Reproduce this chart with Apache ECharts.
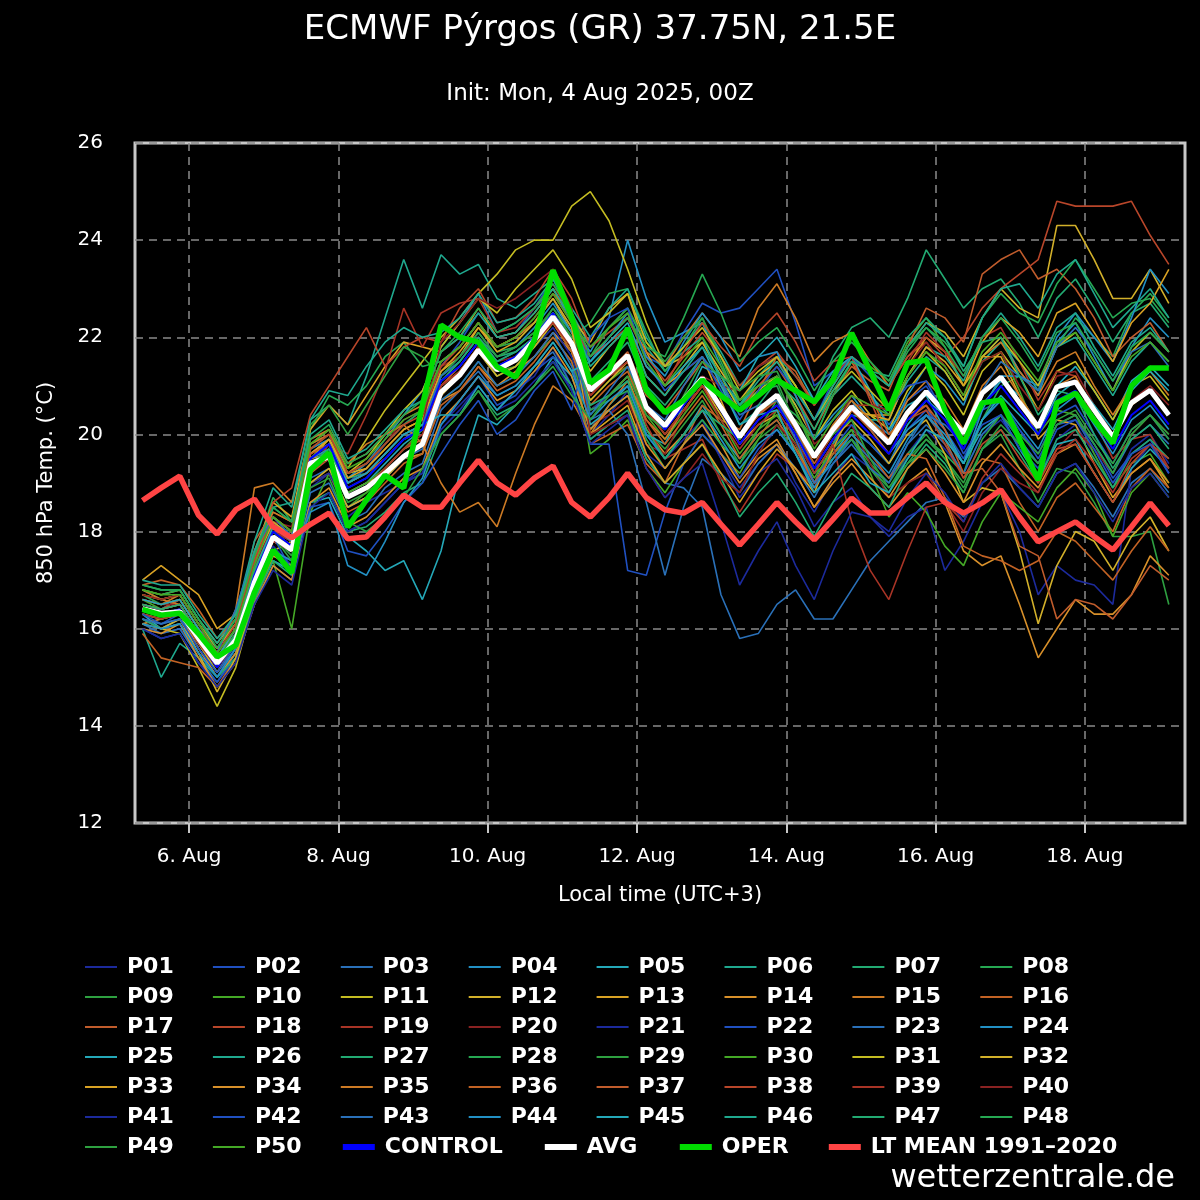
<!DOCTYPE html>
<html>
<head>
<meta charset="utf-8">
<script src="https://cdn.jsdelivr.net/npm/echarts@6/dist/echarts.min.js"></script>
<style>html,body{margin:0;padding:0;background:#000;}#c{width:1200px;height:1200px;}</style>
</head>
<body>
<div id="c"></div>
<script>
// time axis: hours relative to 6 Aug 00:00 local time (UTC+3), 6-hourly steps
const hours = [-15,-9,-3,3,9,15,21,27,33,39,45,51,57,63,69,75,81,87,93,99,105,111,117,123,129,135,141,147,153,159,165,171,177,183,189,195,201,207,213,219,225,231,237,243,249,255,261,267,273,279,285,291,297,303,309,315];
const tickHours = [0,48,96,144,192,240,288];
const tickLabels = ['6. Aug','8. Aug','10. Aug','12. Aug','14. Aug','16. Aug','18. Aug'];

const AVG = [16.41,16.32,16.35,15.8,15.29,15.77,16.96,17.89,17.62,19.41,19.54,18.71,18.9,19.2,19.55,19.8,20.87,21.22,21.74,21.33,21.53,21.94,22.42,21.88,20.91,21.26,21.63,20.56,20.18,20.71,21.16,20.55,19.95,20.5,20.81,20.2,19.54,20.1,20.57,20.2,19.82,20.45,20.88,20.45,20.03,20.85,21.18,20.65,20.15,20.98,21.08,20.5,19.95,20.65,20.91,20.4];
const OPER = [16.4,16.28,16.32,15.9,15.42,15.66,16.75,17.62,17.15,19.27,19.62,18.09,18.65,19.16,18.9,20.6,22.25,22.0,21.9,21.39,21.18,21.94,23.38,22.42,21.06,21.33,22.19,20.91,20.45,20.7,21.12,20.8,20.5,20.8,21.12,20.9,20.67,21.12,22.09,21.3,20.5,21.47,21.53,20.5,19.82,20.65,20.71,19.9,19.06,20.65,20.85,20.3,19.82,21.0,21.37,21.37];
const LTMEAN = [18.64,18.9,19.14,18.34,17.95,18.45,18.67,18.1,17.87,18.15,18.38,17.85,17.89,18.3,18.75,18.5,18.5,19.0,19.47,19.0,18.75,19.1,19.35,18.6,18.3,18.7,19.2,18.7,18.45,18.38,18.6,18.15,17.72,18.15,18.6,18.2,17.83,18.25,18.69,18.38,18.38,18.7,19.0,18.6,18.38,18.59,18.86,18.3,17.79,18.0,18.2,17.9,17.62,18.1,18.59,18.12];
const CONTROL = [16.4,16.3,16.4,15.8,15.2,15.8,17.1,18.0, 17.7,19.5,19.8,18.9,19.1,19.5,19.9,20.1, 21.1,21.4,21.9,21.4,21.6,22.0,22.5,21.9, 20.9,21.3,21.6,20.6,20.1,20.6,21.1,20.5, 19.8,20.3,20.6,20.0,19.3,19.9,20.4,20.0, 19.6,20.3,20.7,20.3,19.7,20.6,21.0,20.5, 20.0,20.7,20.9,20.3,19.7,20.4,20.7,20.2];

const P01 = [16.0,15.9,16.0,15.5,15.0,15.6,16.8,17.6, 17.3,18.9,19.2,18.3,18.6,18.8,19.0,19.3, 20.2,20.6,21.0,20.5,20.9,21.2,21.8,21.0, 20.0,20.4,20.9,19.6,19.3,19.8,20.2,19.5, 18.9,19.4,19.8,19.0,18.4,19.1,19.6,19.3, 18.8,19.6,20.1,19.7,19.2,20.0,20.3,19.8, 19.1,19.9,20.2,19.6,18.9,19.7,20.0,19.4];
const P02 = [16.2,16.1,16.3,15.7,15.1,15.7,17.1,18.0, 17.8,19.6,19.9,19.0,19.3,19.8,20.2,20.5, 21.4,21.9,22.5,22.0,22.1,22.6,23.2,22.4, 21.5,22.0,22.4,21.6,21.4,22.1,22.7,22.5, 22.6,23.0,23.4,22.3,21.0,21.3,21.6,20.8, 20.2,20.7,21.0,20.4,19.7,20.5,20.7,20.1, 19.5,20.2,20.3,19.8,19.1,19.6,19.9,19.2];
const P03 = [16.1,15.9,16.0,15.4,14.9,15.5,16.6,17.4, 17.2,18.8,19.0,18.2,18.4,18.9,19.2,19.4, 20.5,20.9,21.3,20.8,21.0,21.4,21.7,21.0, 19.9,20.2,20.4,19.5,19.0,18.9,18.5,16.7, 15.8,15.9,16.5,16.8,16.2,16.2,16.8,17.4, 17.8,18.2,18.6,18.7,18.3,19.0,19.3,18.9, 18.5,19.2,19.4,18.9,18.3,19.0,19.3,18.8];
const P04 = [16.5,16.4,16.6,16.0,15.6,16.1,17.3,18.2, 17.9,19.7,19.9,19.1,19.4,19.9,20.4,20.9, 21.8,22.3,22.9,22.1,22.3,22.6,23.0,22.3, 21.7,22.4,24.0,22.8,21.9,22.1,22.3,21.4, 20.6,21.0,21.2,20.6,19.9,20.4,20.8,20.3, 20.0,20.8,21.4,21.1,20.6,21.6,22.0,21.3, 20.8,21.9,22.3,21.6,20.9,21.8,22.4,22.0];
const P05 = [16.3,16.0,16.2,15.6,15.0,15.5,16.6,17.4, 17.2,18.6,18.7,17.9,17.6,17.2,17.4,16.6, 17.6,19.2,20.4,20.2,20.6,21.0,21.6,21.2, 20.1,20.6,21.0,20.0,19.5,20.0,20.6,20.0, 19.5,20.0,20.3,19.7,19.0,19.6,20.1,19.8, 19.4,20.2,20.7,20.4,19.8,20.6,21.1,20.8, 20.2,21.0,21.4,20.9,20.3,21.1,21.4,21.0];
const P06 = [16.0,15.0,15.7,15.4,15.0,15.6,17.0,18.5, 18.6,20.3,20.6,20.2,21.2,22.4,23.6,22.6, 23.7,23.3,23.5,22.8,22.6,22.9,23.2,22.5, 21.8,22.2,22.6,21.8,21.3,21.8,22.3,21.7, 21.0,21.4,21.6,21.0,20.3,20.8,21.2,20.8, 20.4,21.1,21.6,21.3,20.7,21.5,21.9,21.5, 20.9,21.8,22.0,21.4,20.8,21.5,21.9,21.5];
const P07 = [16.8,16.6,16.7,16.1,15.6,16.2,17.4,18.3, 18.0,19.8,20.0,19.1,19.2,19.6,20.0,20.2, 21.2,21.5,22.0,21.6,21.7,22.0,22.6,22.1, 21.1,21.5,21.9,21.0,20.6,21.1,21.6,21.1, 20.6,21.2,21.6,21.2,20.7,21.6,22.2,22.4, 22.0,22.8,23.8,23.2,22.6,23.0,23.2,22.7, 22.0,22.8,23.2,22.6,21.9,22.5,22.7,22.2];
const P08 = [16.7,16.5,16.6,16.0,15.5,16.0,17.5,18.7, 18.2,20.1,20.8,20.6,21.0,21.6,21.9,21.4, 21.5,21.8,22.3,21.7,21.8,22.1,22.5,22.0, 22.3,22.9,23.0,22.1,21.3,21.8,22.4,21.5, 20.6,20.9,21.0,20.1,19.2,19.5,19.9,19.3, 18.8,19.4,19.9,19.6,19.2,20.3,21.0,21.2, 20.9,21.8,22.4,22.0,21.6,22.5,22.9,22.4];
const P09 = [16.5,16.4,16.5,15.9,15.4,15.9,17.1,17.9, 17.5,19.3,19.5,18.6,18.8,19.1,19.5,19.6, 20.7,21.0,21.5,21.0,21.2,21.6,22.0,21.5, 20.4,20.8,21.1,20.1,19.7,20.2,20.7,20.0, 19.4,19.9,20.2,19.6,18.9,19.5,19.9,19.4, 19.0,19.6,20.0,19.5,18.9,19.7,20.0,19.3, 18.6,19.3,19.2,18.6,17.9,17.9,18.0,16.5];
const P10 = [16.6,16.4,16.5,15.9,15.4,15.8,17.0,17.4, 16.0,18.4,19.2,18.5,18.8,19.3,19.7,20.1, 21.0,21.3,21.8,21.3,21.4,21.9,22.4,21.9, 19.6,19.9,20.3,19.3,18.8,19.4,20.0,19.6, 19.2,19.9,20.5,20.3,19.9,20.8,21.5,21.4, 21.1,21.9,22.4,21.8,21.0,21.5,21.7,20.9, 20.0,20.5,20.4,19.6,18.9,19.4,19.6,19.0];
const P11 = [16.2,16.0,15.9,15.2,14.4,15.2,16.6,17.6, 17.8,19.5,19.9,19.3,19.9,20.5,21.0,21.5, 22.0,22.4,22.9,23.3,23.8,24.0,24.0,24.7, 25.0,24.4,23.4,22.3,21.4,21.6,21.9,21.2, 20.5,20.9,21.2,20.6,19.9,20.5,20.9,20.4, 20.1,20.9,21.4,21.0,20.4,21.3,21.7,21.2, 20.5,21.3,21.5,20.9,20.3,21.0,21.2,20.7];
const P12 = [16.8,16.7,16.8,16.2,15.7,16.2,17.4,18.1, 17.9,19.8,20.1,19.2,19.3,19.7,20.1,20.3, 21.3,21.6,22.2,21.8,22.0,22.3,22.8,22.1, 21.3,21.8,22.2,21.2,20.8,21.4,21.9,21.3, 20.7,21.2,21.5,21.0,20.3,21.0,21.6,21.3, 21.0,21.8,22.3,22.1,21.6,22.4,23.0,22.6, 22.4,24.3,24.3,23.6,22.8,22.8,23.4,22.7];
const P13 = [17.0,17.3,17.0,16.7,16.0,16.3,17.6,18.6, 18.3,20.1,20.6,20.2,20.8,21.4,21.9,21.8, 21.7,22.0,22.6,22.0,22.1,22.5,23.0,22.4, 21.9,22.6,22.9,21.7,21.0,21.3,21.6,20.7, 19.8,20.2,20.4,19.8,19.0,19.8,20.5,20.4, 20.4,21.4,22.0,21.7,21.0,21.6,21.6,20.8, 19.9,20.3,20.2,19.4,18.7,19.2,19.5,18.9];
const P14 = [16.1,16.2,16.3,15.6,15.0,15.5,16.9,18.0, 17.7,19.5,19.6,18.8,19.0,19.2,19.5,19.6, 20.7,20.9,21.4,21.0,21.3,21.6,22.1,21.7, 20.5,20.8,21.2,20.1,19.6,20.0,20.5,19.8, 19.1,19.6,19.9,19.2,18.5,19.0,19.4,18.9, 18.5,19.0,19.3,18.6,17.6,17.3,17.5,16.5, 15.4,16.0,16.6,16.3,16.3,16.7,17.5,17.1];
const P15 = [16.6,16.5,16.7,16.1,15.5,16.4,18.9,19.0, 18.6,19.9,20.1,19.4,19.6,20.0,20.4,20.6, 21.5,21.8,22.3,21.8,22.0,22.3,22.9,22.5, 21.6,22.0,22.4,21.7,21.4,22.0,22.5,22.0, 21.6,22.6,23.1,22.4,21.5,21.9,22.1,21.5, 21.0,21.6,21.9,21.4,20.8,21.6,21.9,21.3, 20.8,21.5,21.7,21.0,20.4,21.0,21.3,20.8];
const P16 = [15.9,15.4,15.3,15.2,14.8,15.4,16.5,17.5, 17.3,19.0,19.2,18.4,18.6,19.0,19.4,19.6, 20.6,20.9,21.4,20.9,21.1,21.5,22.0,21.5, 19.8,20.0,20.2,19.4,19.0,19.8,20.6,20.3, 20.1,20.9,21.6,21.3,20.6,21.2,21.5,20.8, 20.0,20.4,20.6,19.9,19.1,19.5,19.4,18.6, 18.0,18.7,19.0,18.5,18.0,18.9,19.3,18.9];
const P17 = [16.7,16.6,16.7,16.1,15.6,16.1,17.8,18.4, 18.2,19.6,19.8,19.0,19.2,19.5,19.9,20.1, 21.0,21.4,21.9,21.4,21.6,21.9,22.4,21.9, 20.9,21.3,21.7,20.8,20.5,21.0,21.5,21.0, 20.5,21.0,21.4,20.8,20.1,20.8,21.4,21.1, 20.9,21.8,22.6,22.4,21.9,23.3,23.6,23.8, 23.2,23.4,23.0,22.4,21.6,22.0,22.3,21.7];
const P18 = [16.5,16.4,16.6,16.0,15.4,16.0,17.4,18.6, 18.9,20.4,21.0,21.6,22.2,21.4,21.8,22.0, 21.9,22.6,23.0,22.3,22.4,22.8,23.4,22.8, 21.8,22.1,22.4,21.6,21.1,21.6,22.1,21.6, 21.0,21.4,21.7,21.2,20.6,21.2,21.6,21.3, 21.0,21.6,22.0,21.6,22.0,22.6,23.0,23.3, 23.6,24.8,24.7,24.7,24.7,24.8,24.1,23.5];
const P19 = [16.4,16.3,16.4,15.8,15.2,15.8,17.2,18.0, 17.8,19.3,19.8,19.6,20.4,21.3,22.6,21.8, 22.5,22.7,22.8,22.1,22.2,22.6,23.1,22.4, 21.0,21.2,21.4,20.2,19.5,19.7,19.9,19.0, 18.4,19.0,19.6,19.3,18.9,19.8,20.6,20.6, 20.6,21.5,22.1,21.7,21.2,22.0,22.2,21.5, 20.7,21.3,21.2,20.3,19.5,19.9,20.0,19.3];
const P20 = [16.6,16.5,16.5,15.9,15.3,15.9,17.2,18.2, 18.1,19.8,20.0,19.2,19.4,19.8,20.3,20.5, 21.4,21.6,22.0,21.5,21.6,21.9,22.4,21.8, 20.2,20.4,20.7,19.8,19.6,20.4,21.2,21.0, 20.9,21.4,21.6,20.8,19.8,20.1,20.2,19.4, 18.7,19.0,19.2,18.6,18.0,18.8,19.3,19.0, 18.8,19.7,20.1,19.7,19.2,20.0,20.4,20.0];
const P21 = [16.2,16.0,16.1,15.5,15.0,15.6,16.9,17.7, 17.3,19.0,19.2,18.5,18.7,19.1,19.5,19.8, 20.8,21.2,21.7,21.2,21.4,21.8,22.2,21.6, 20.5,20.8,21.1,20.0,19.5,19.9,20.3,19.5, 18.7,19.2,19.5,18.9,18.1,18.6,18.9,18.3, 17.9,18.3,18.5,17.2,17.8,18.6,18.8,18.0, 16.7,17.3,17.0,16.9,16.5,19.3,19.8,19.2];
const P22 = [16.0,15.8,15.9,15.3,14.9,15.4,16.5,17.3, 17.0,18.6,18.8,18.0,18.2,18.6,19.0,19.2, 20.2,20.7,21.2,20.6,20.8,21.3,21.6,20.9, 19.8,19.8,17.2,17.1,18.4,19.4,20.0,19.6, 19.1,19.7,20.1,19.6,19.0,19.7,20.2,19.8, 19.4,20.1,20.5,20.1,19.5,20.3,20.7,20.1, 19.6,20.4,20.6,20.0,19.4,20.1,20.4,19.9];
const P23 = [16.3,16.2,16.3,15.7,15.1,15.6,16.8,17.6, 17.4,19.1,19.3,18.5,18.7,19.1,19.5,19.7, 20.7,21.0,21.5,21.0,21.2,21.6,22.1,21.4, 20.3,20.5,20.0,18.6,17.1,18.5,19.5,19.2, 18.8,19.4,19.8,19.3,18.7,19.4,19.9,19.5, 19.1,19.8,20.2,19.8,19.2,20.0,20.4,19.9, 19.4,20.2,20.4,19.8,19.2,19.9,20.2,19.8];
const P24 = [16.4,16.3,16.4,15.8,15.3,15.9,17.1,18.0, 17.7,19.5,19.7,18.9,19.1,19.5,19.9,20.2, 21.2,21.6,22.1,21.6,21.8,22.2,22.7,22.1, 21.5,22.0,22.5,21.6,21.2,21.9,22.5,22.0, 21.3,21.6,21.7,20.8,19.9,20.3,20.7,20.1, 19.6,20.1,20.4,19.9,19.4,20.5,21.2,21.2, 21.0,22.0,22.5,22.0,21.5,22.4,23.4,22.9];
const P25 = [16.5,16.4,16.5,15.9,15.3,15.8,17.0,17.8, 17.6,19.3,19.5,18.8,19.0,19.4,19.8,20.1, 21.1,21.4,21.9,21.4,21.6,22.0,22.5,21.9, 20.2,20.5,20.8,20.0,19.8,20.6,21.4,21.2, 20.9,21.6,22.0,21.4,20.7,21.3,21.6,20.9, 20.1,20.6,20.8,20.1,19.4,20.1,20.4,19.7, 19.1,19.8,19.9,19.2,18.6,19.3,19.7,19.3];
const P26 = [16.9,16.8,16.8,16.2,15.7,16.3,17.8,18.9, 18.5,20.3,20.9,20.8,21.4,21.9,22.2,22.0, 22.1,22.4,22.9,22.3,22.4,22.7,23.2,22.6, 22.0,22.6,23.0,22.0,21.4,21.7,22.0,21.1, 20.2,20.5,20.7,20.0,19.2,19.8,20.4,20.3, 20.3,21.2,21.8,21.6,21.1,22.0,22.5,22.0, 21.4,22.2,22.5,21.8,21.2,21.9,22.2,21.7];
const P27 = [16.2,16.0,16.1,15.5,15.0,15.4,16.6,17.4, 17.1,18.6,18.8,18.0,18.1,18.4,18.8,19.0, 20.0,20.4,20.9,20.4,20.6,21.0,21.5,21.0, 19.9,20.2,20.5,19.5,19.0,19.4,19.8,19.1, 18.3,18.8,19.2,18.6,17.9,18.6,19.2,18.9, 18.5,19.3,19.8,19.4,18.8,19.7,20.1,19.6, 19.0,19.9,20.1,19.5,18.9,19.6,19.9,19.5];
const P28 = [16.8,16.7,16.8,16.2,15.6,16.1,17.3,18.2, 17.9,19.7,20.0,19.2,19.4,19.8,20.2,20.5, 21.5,21.8,22.3,21.8,21.9,22.3,22.8,22.2, 20.5,20.7,20.9,19.9,19.3,19.8,20.3,19.8, 19.4,20.1,20.7,20.4,19.9,20.8,21.5,21.3, 21.0,21.7,22.2,21.9,21.4,22.4,22.9,22.5, 22.3,23.1,23.6,23.0,22.4,22.7,22.8,22.3];
const P29 = [16.6,16.5,16.6,16.0,15.4,15.9,17.3,18.1, 18.0,20.2,20.6,20.0,20.6,21.2,21.8,21.6, 21.2,21.6,22.1,21.6,21.8,22.1,22.6,22.0, 21.6,22.2,22.6,21.9,21.5,22.0,22.4,21.6, 20.7,21.0,21.1,20.2,19.3,19.6,19.9,19.3, 18.9,19.5,19.9,19.5,19.0,19.9,20.4,20.0, 19.6,20.3,20.5,19.9,19.4,20.1,20.4,19.9];
const P30 = [16.4,16.3,16.4,15.8,15.2,15.8,17.1,18.0, 17.7,19.4,19.6,18.8,19.0,19.3,19.7,19.9, 20.9,21.2,21.7,21.2,21.4,21.8,22.3,21.7, 20.7,21.1,21.4,20.4,19.9,20.4,20.9,20.3, 19.6,20.1,20.4,19.8,19.1,19.7,20.1,19.2, 18.3,18.8,18.4,17.7,17.3,18.2,18.8,18.5, 18.2,18.9,19.3,18.8,17.9,18.8,19.2,18.7];
const P31 = [16.3,16.2,16.3,15.7,15.1,15.7,17.0,17.9, 17.7,19.6,19.9,19.2,19.5,20.0,20.5,20.9, 21.8,22.3,22.8,22.5,23.0,23.4,23.8,23.2, 22.2,22.5,22.9,21.9,21.4,21.8,22.2,21.6, 20.9,21.3,21.6,21.0,20.3,20.9,21.3,20.9, 20.5,21.2,21.7,21.3,20.7,21.6,22.0,21.5, 21.0,21.8,22.1,21.5,20.9,21.7,22.1,21.7];
const P32 = [16.1,16.0,16.2,15.5,14.7,15.4,16.7,17.5, 17.3,19.0,19.3,18.5,18.7,19.1,19.5,19.8, 20.8,21.2,21.7,21.2,21.4,21.8,22.3,21.7, 20.7,21.1,21.5,20.5,20.0,20.5,21.0,20.4, 19.8,20.3,20.6,20.0,19.3,19.9,20.3,19.9, 19.4,20.0,20.3,19.6,18.6,18.9,18.8,17.6, 16.1,17.3,18.0,17.8,17.2,17.9,18.3,17.6];
const P33 = [16.7,16.6,16.7,16.1,15.6,16.1,17.3,18.2, 17.9,19.6,19.9,19.1,19.3,19.7,20.1,20.3, 21.3,21.7,22.2,21.7,21.9,22.3,22.8,22.2, 20.0,20.3,20.6,19.6,19.0,19.4,19.8,19.2, 18.6,19.2,19.7,19.3,18.8,19.7,20.5,20.4, 20.3,21.2,21.8,21.5,21.0,21.9,22.4,22.1, 21.6,22.5,22.7,22.1,21.5,22.3,22.7,23.4];
const P34 = [16.0,15.9,16.1,15.4,14.8,15.3,16.5,17.3, 17.0,18.6,18.9,18.1,18.3,18.7,19.1,19.3, 20.3,20.7,21.2,20.7,20.9,21.3,21.8,21.2, 20.1,20.5,20.8,19.8,19.3,19.8,20.2,19.6, 19.0,19.5,19.8,19.2,18.5,19.1,19.5,19.1, 18.7,19.3,19.7,19.2,18.6,19.4,19.8,19.3, 18.9,19.6,19.8,19.2,18.6,19.2,19.5,19.0];
const P35 = [16.8,16.6,16.5,15.9,15.4,16.0,17.5,18.4, 18.2,19.8,20.0,19.4,19.8,20.0,20.2,19.8, 19.0,18.4,18.6,18.1,19.2,20.2,21.0,20.7, 20.0,20.6,21.1,20.3,19.9,20.5,21.0,20.5, 19.9,20.4,20.8,20.2,19.5,20.2,20.7,20.3, 19.9,20.7,21.1,20.7,20.1,21.0,21.4,20.8, 20.2,21.0,21.2,20.5,19.9,20.6,20.9,20.4];
const P36 = [16.9,17.0,16.9,16.4,15.8,16.2,17.5,18.3, 18.0,19.6,19.8,19.0,19.2,19.5,19.9,20.1, 21.0,21.3,21.8,21.3,21.5,21.9,22.3,21.7, 20.6,21.0,21.3,20.3,19.8,20.3,20.8,20.2, 19.5,20.0,20.3,19.7,19.0,19.6,20.0,19.6, 19.1,19.6,19.5,18.7,17.7,17.5,17.4,17.2, 17.4,18.0,17.8,17.4,17.0,17.6,18.1,17.6];
const P37 = [16.5,16.4,16.5,15.9,15.3,15.8,17.0,17.8, 17.6,19.2,19.5,18.7,18.9,19.3,19.7,19.9, 20.9,21.3,21.8,21.3,21.5,21.9,22.3,21.8, 20.8,21.2,21.5,20.5,20.1,20.6,21.1,20.5, 19.9,20.4,20.7,20.1,19.4,20.0,20.5,20.1, 19.6,20.3,20.6,20.1,19.2,19.3,18.8,17.7, 17.5,16.2,16.6,16.5,16.2,16.7,17.3,17.0];
const P38 = [16.6,16.5,16.6,16.0,15.5,16.1,17.4,18.3, 18.0,19.7,20.0,19.2,19.4,19.8,20.2,20.4, 21.4,21.8,22.3,21.8,22.0,22.4,22.9,22.3, 21.6,21.9,22.2,21.4,21.0,21.7,22.3,21.8, 21.4,22.1,22.5,21.9,21.1,21.5,21.6,20.7, 19.8,20.3,20.5,19.8,19.1,19.8,20.1,19.5, 19.0,19.7,19.8,19.2,18.6,19.4,19.8,19.5];
const P39 = [16.3,16.2,16.3,15.7,15.2,15.7,17.0,17.8, 17.6,19.3,19.5,18.7,18.9,19.3,19.7,20.0, 21.0,21.3,21.8,21.3,21.5,21.9,22.3,21.8, 20.8,21.2,21.5,20.5,20.0,20.5,21.0,20.3, 19.7,20.2,20.5,19.9,19.2,19.8,18.2,17.2, 16.6,17.6,18.5,18.6,18.2,19.1,19.6,19.2, 18.8,19.6,19.9,19.4,18.8,19.5,19.8,19.3];
const P40 = [16.7,16.6,16.7,16.1,15.5,16.0,17.3,18.1, 17.8,19.5,19.8,19.0,19.2,19.6,20.0,20.2, 21.9,22.3,22.8,22.6,22.8,23.1,23.4,22.6, 20.0,20.2,20.4,19.3,18.7,19.1,19.6,19.1, 18.8,19.6,20.2,19.8,19.3,20.1,20.8,20.6, 20.5,21.4,21.9,21.4,20.8,21.5,21.7,21.0, 20.5,21.2,21.3,20.6,20.0,20.7,21.0,20.6];
const P41 = [16.0,15.8,15.9,15.3,14.8,15.3,16.5,17.2, 16.9,18.5,18.8,18.0,18.2,18.6,19.0,19.2, 20.1,20.5,21.0,20.5,20.7,21.1,21.5,20.9, 19.8,20.1,20.4,19.3,18.7,19.1,19.4,18.2, 16.9,17.6,18.2,17.3,16.6,17.6,18.4,18.3, 18.0,18.7,19.2,18.8,18.2,19.0,19.4,18.9, 18.5,19.2,19.4,18.8,18.2,18.9,19.2,18.7];
const P42 = [16.3,16.1,16.2,15.6,15.1,15.7,17.0,17.9, 17.2,18.5,18.6,17.6,17.5,18.0,18.6,19.0, 19.6,20.2,20.7,20.0,20.3,20.9,21.3,20.5, 22.0,22.4,22.6,21.5,20.9,21.3,21.6,20.9, 20.3,20.9,21.4,20.9,20.3,21.1,21.6,21.2, 20.5,21.0,21.1,20.4,19.6,20.2,20.4,19.7, 19.3,20.1,20.3,19.7,19.0,19.6,19.8,19.2];
const P43 = [16.2,16.1,16.2,15.8,15.5,16.4,17.6,18.3, 17.9,19.5,19.8,19.0,19.2,19.6,20.0,20.2, 21.2,21.5,22.0,21.5,21.7,22.0,22.5,21.9, 20.4,20.9,21.4,20.6,20.3,21.0,21.6,21.1, 20.4,20.6,20.7,19.9,19.0,19.4,19.8,19.3, 19.0,19.8,20.4,20.2,19.8,20.9,21.5,21.2, 20.9,21.8,22.2,21.7,21.1,21.7,21.9,21.4];
const P44 = [16.1,16.0,16.1,15.5,15.0,15.6,16.8,17.6, 17.4,18.4,18.6,17.3,17.1,17.8,18.6,19.1, 20.2,20.7,21.2,20.8,21.0,21.4,21.9,21.3, 20.3,20.7,21.0,20.0,19.5,20.0,20.5,19.9, 19.3,19.8,20.1,19.6,18.9,19.5,20.0,19.6, 19.2,19.9,20.4,20.0,19.4,20.3,20.7,20.2, 19.7,20.5,20.8,20.2,19.6,20.3,20.6,20.1];
const P45 = [16.6,16.5,16.6,16.0,15.4,16.0,17.2,18.1, 17.8,19.5,19.8,19.0,19.2,19.6,20.0,20.2, 20.4,20.4,21.0,20.5,20.9,21.4,21.9,21.3, 21.5,21.9,22.3,21.4,21.0,21.4,21.8,21.0, 20.2,20.4,20.5,19.6,18.8,19.2,19.6,19.0, 18.8,19.5,20.1,19.9,19.4,20.3,20.8,20.4, 20.0,20.8,21.1,20.6,20.1,20.9,21.3,20.9];
const P46 = [17.0,16.9,16.9,16.3,15.8,16.3,17.6,18.5, 18.2,20.0,20.3,19.5,19.7,20.1,20.5,20.7, 21.7,22.0,22.5,22.0,22.1,22.5,23.0,22.4, 21.4,21.8,22.2,21.2,20.8,21.3,21.8,21.2, 20.6,21.1,21.5,20.9,20.3,21.0,21.6,21.3, 21.0,21.8,22.3,22.0,21.4,22.4,23.0,23.1, 22.6,23.3,23.6,22.9,22.2,22.6,23.0,22.4];
const P47 = [16.5,16.4,16.5,15.9,15.3,15.9,17.2,18.0, 17.7,19.4,19.7,18.9,19.1,19.5,19.9,20.1, 21.1,21.5,22.0,21.5,21.7,22.0,22.5,21.9, 20.6,20.8,21.1,20.1,19.5,20.0,20.5,20.2, 19.9,20.6,21.1,20.7,20.1,20.9,21.5,21.3, 21.2,22.0,22.4,22.0,21.3,21.9,22.0,21.2, 20.4,20.9,20.8,20.0,19.3,19.9,20.2,19.7];
const P48 = [16.9,16.8,16.8,16.2,15.6,16.2,17.5,18.5, 18.2,19.9,20.2,19.4,19.6,20.0,20.4,20.7, 21.7,22.1,22.6,22.1,22.3,22.6,23.1,22.5, 21.6,22.0,22.4,21.8,21.6,22.4,23.3,22.5, 21.5,21.9,22.2,21.6,20.9,21.5,21.9,21.5, 21.1,21.8,22.2,21.8,21.2,22.0,22.4,21.9, 21.3,22.1,22.3,21.7,21.1,21.8,22.1,21.7];
const P49 = [16.4,16.3,16.4,15.8,15.3,15.8,17.0,17.9, 17.4,18.9,19.1,18.2,18.0,18.3,18.7,19.3, 20.0,20.4,20.9,20.3,20.6,21.0,21.4,20.8, 20.3,20.8,21.2,20.4,20.1,20.8,21.5,21.2, 20.9,21.2,21.3,20.5,19.6,20.0,20.3,19.5, 18.9,19.4,19.7,19.3,18.8,19.7,20.2,19.8, 19.4,20.2,20.4,19.8,19.2,20.0,20.4,20.0];
const P50 = [16.8,16.7,16.7,16.1,15.5,16.0,17.3,18.3, 18.0,19.8,20.1,19.3,19.5,19.9,20.3,20.5, 21.5,21.8,22.3,21.8,22.0,22.4,22.9,22.3, 21.8,22.2,22.5,21.5,21.0,21.5,22.0,21.4, 20.7,21.0,21.2,20.5,19.7,20.3,20.8,20.6, 20.4,21.2,21.7,21.4,20.8,21.7,22.1,21.6, 21.1,21.9,22.1,21.5,20.9,21.6,21.9,21.5];

const memberValues = [P01,P02,P03,P04,P05,P06,P07,P08,P09,P10,P11,P12,P13,P14,P15,P16,P17,P18,P19,P20,P21,P22,P23,P24,P25,P26,P27,P28,P29,P30,P31,P32,P33,P34,P35,P36,P37,P38,P39,P40,P41,P42,P43,P44,P45,P46,P47,P48,P49,P50];
const memberNames = memberValues.map((_, i) => 'P' + String(i + 1).padStart(2, '0'));
const palette20 = ['#1c2a9c','#2050c0','#2a70b8','#2290c4','#24a8b8','#1fa88e','#22aa72','#26a852','#2ea040','#44a826','#c4bc22','#d2b02a','#d9a224','#d8902a','#cc7a24','#c26224','#c05c2c','#b8462a','#a83426','#8a2222'];

const pairs = vals => vals.map((v, i) => [hours[i], v]);

const series = [];
memberValues.forEach((vals, i) => {
  series.push({
    name: memberNames[i], type: 'line', data: pairs(vals), symbol: 'none',
    lineStyle: { width: 1.6, color: palette20[i % 20] }, itemStyle: { color: palette20[i % 20] },
    z: 2, silent: true
  });
});
const LT_NAME = 'LT MEAN 1991–2020';
series.push({ name: 'CONTROL', type: 'line', data: pairs(CONTROL), symbol: 'none',
  lineStyle: { width: 2, color: '#0000ff' }, itemStyle: { color: '#0000ff' }, z: 3, silent: true });
series.push({ name: 'AVG', type: 'line', data: pairs(AVG), symbol: 'none',
  lineStyle: { width: 5, color: '#ffffff' }, itemStyle: { color: '#ffffff' }, z: 4, silent: true });
series.push({ name: 'OPER', type: 'line', data: pairs(OPER), symbol: 'none',
  lineStyle: { width: 5.5, color: '#00dd00' }, itemStyle: { color: '#00dd00' }, z: 5, silent: true });
series.push({ name: LT_NAME, type: 'line', data: pairs(LTMEAN), symbol: 'none',
  lineStyle: { width: 5.5, color: '#ff4444' }, itemStyle: { color: '#ff4444' }, z: 6, silent: true });

const FONT = 'DejaVu Sans';
const LEG_FONT_SIZE = 22;
// legend: fixed column pitch, measured text widths -> right padding
const mctx = document.createElement('canvas').getContext('2d');
mctx.font = 'bold ' + LEG_FONT_SIZE + 'px "DejaVu Sans"';
const ICON_W = 32, TXT_GAP = 5, TXT_PADL = 5;
const pitchOf = { 'CONTROL': 199, 'AVG': 132, 'OPER': 146 };
const thickItems = { 'CONTROL': '#0000ff', 'AVG': '#ffffff', 'OPER': '#00dd00' };
thickItems[LT_NAME] = '#ff4444';
const legendNames = memberNames.concat(['CONTROL', 'AVG', 'OPER', LT_NAME]);
const legendData = legendNames.map(n => {
  const w = mctx.measureText(n).width;
  const pitch = n === LT_NAME ? null : (pitchOf[n] || 126.9);
  const padR = pitch ? Math.max(0, pitch - ICON_W - TXT_GAP - TXT_PADL - w) : 0;
  const item = { name: n, textStyle: { padding: [0, padR, 0, TXT_PADL] } };
  item.lineStyle = { width: thickItems[n] ? 6 : 2 };
  return item;
});

const chart = echarts.init(document.getElementById('c'), null, { renderer: 'canvas' });
chart.setOption({
  backgroundColor: '#000000',
  animation: false,
  title: [
    { text: 'ECMWF Pýrgos (GR) 37.75N, 21.5E', left: 'center', top: 8,
      textStyle: { color: '#fff', fontFamily: FONT, fontSize: 34, fontWeight: 'normal' } },
    { text: 'Init: Mon, 4 Aug 2025, 00Z', left: 'center', top: 78,
      textStyle: { color: '#fff', fontFamily: FONT, fontSize: 23, fontWeight: 'normal' } },
    { text: 'wetterzentrale.de', right: 20, top: 1158,
      textStyle: { color: '#fff', fontFamily: FONT, fontSize: 32, fontWeight: 'normal' } }
  ],
  grid: { left: 135, right: 15, top: 143, bottom: 377, show: true,
    borderColor: '#c8c8c8', borderWidth: 3, backgroundColor: 'transparent' },
  xAxis: {
    type: 'value', min: -17.4, max: 320.2,
    name: 'Local time (UTC+3)', nameLocation: 'middle', nameGap: 62,
    nameTextStyle: { color: '#fff', fontFamily: FONT, fontSize: 21 },
    axisLine: { show: false },
    axisTick: { show: true, customValues: tickHours, length: 10, lineStyle: { color: '#c8c8c8', width: 2 } },
    axisLabel: { customValues: tickHours, color: '#fff', fontFamily: FONT, fontSize: 20, margin: 24,
      formatter: v => tickLabels[tickHours.indexOf(v)] || '' },
    splitLine: { show: true, lineStyle: { color: '#8a8a8a', width: 1.5, type: [8, 6] } }
  },
  yAxis: {
    type: 'value', min: 12, max: 26, interval: 2,
    name: '850 hPa Temp. (°C)', nameLocation: 'middle', nameGap: 78, nameRotate: 90,
    nameTextStyle: { color: '#fff', fontFamily: FONT, fontSize: 21 },
    axisLine: { show: false }, axisTick: { show: false },
    axisLabel: { color: '#fff', fontFamily: FONT, fontSize: 20, margin: 32 },
    splitLine: { show: true, lineStyle: { color: '#8a8a8a', width: 1.5, type: [8, 6] } }
  },
  legend: {
    data: legendData, left: 84, top: 952, width: 1100, itemWidth: ICON_W, itemHeight: 14, itemGap: 0,
    selectedMode: false, orient: 'horizontal', padding: 0,
    itemStyle: { color: 'transparent', borderColor: 'transparent', borderWidth: 0 },
    textStyle: { color: '#fff', fontFamily: FONT, fontSize: LEG_FONT_SIZE, fontWeight: 'bold', lineHeight: 30 }
  },
  series: series
});
</script>
</body>
</html>
